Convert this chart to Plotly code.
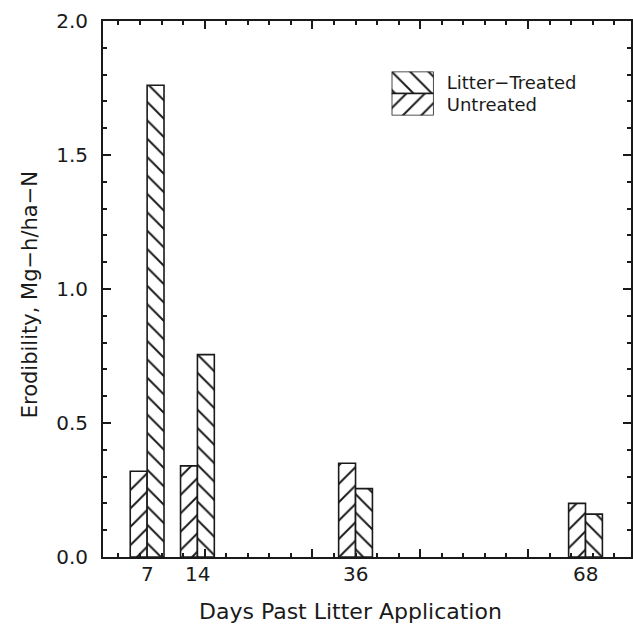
import plotly.graph_objects as go

days = [7, 14, 36, 68]
day_labels = ["7", "14", "36", "68"]
untreated = [0.32, 0.34, 0.35, 0.20]
litter_treated = [1.76, 0.755, 0.255, 0.16]
series_names = ["Litter\u2212Treated", "Untreated"]
y_major = [0.0, 0.5, 1.0, 1.5, 2.0]
y_major_text = ["0.0", "0.5", "1.0", "1.5", "2.0"]
y_minor = [round(i * 0.1, 1) for i in range(21)]
x_major = [15, 30, 45, 60]
x_minor = list(range(3, 75, 3))

W, H = 633, 625
ML, MR, MT, MB = 103, 0, 21, 68
pw = W - ML - MR
ph = H - MT - MB

INK = "#1a1a1a"
FONT = "DejaVu Sans"
bar_w = 2.35
pat_size = 13
pat_sol = 0.15
x_range = [0.86, 74.33]
y_range = [0, 2.0]


def hatch(shape):
    return dict(shape=shape, fgcolor=INK, bgcolor="white", fgopacity=1,
                size=pat_size, solidity=pat_sol)


fig = go.Figure()

fig.add_trace(go.Bar(
    x=days, y=untreated, offset=-bar_w, width=bar_w,
    marker=dict(color="white", opacity=1, line=dict(color=INK, width=1.6),
                pattern=hatch("/")),
    showlegend=False, name=series_names[1]))
fig.add_trace(go.Bar(
    x=days, y=litter_treated, offset=0, width=bar_w,
    marker=dict(color="white", opacity=1, line=dict(color=INK, width=1.6),
                pattern=hatch("\\")),
    showlegend=False, name=series_names[0]))

# invisible helpers so the overlay tick axes exist
for xa, ya in [("x2", "y"), ("x4", "y"), ("x", "y2"), ("x", "y4")]:
    fig.add_trace(go.Scatter(x=days, y=untreated, xaxis=xa, yaxis=ya,
                             mode="markers", marker=dict(opacity=0),
                             showlegend=False, hoverinfo="skip"))

# legend swatches (bars on their own small axes)
fig.add_trace(go.Bar(
    x=[1], y=[1], orientation="h", width=1, xaxis="x3", yaxis="y3",
    marker=dict(color="white", opacity=1, line=dict(color=INK, width=1.6),
                pattern=hatch("\\")),
    showlegend=False, hoverinfo="skip"))
fig.add_trace(go.Bar(
    x=[1], y=[0], orientation="h", width=1, xaxis="x3", yaxis="y3",
    marker=dict(color="white", opacity=1, line=dict(color=INK, width=1.6),
                pattern=hatch("/")),
    showlegend=False, hoverinfo="skip"))

annotations = [
    dict(text=lab, x=d, xref="x", y=0, yref="paper", yshift=-17,
         xanchor="center", yanchor="middle", showarrow=False,
         font=dict(size=20))
    for d, lab in zip(days, day_labels)
]
annotations += [
    dict(text="Erodibility, Mg\u2212h/ha\u2212N", xref="paper", yref="paper",
         x=(30 - ML) / pw, y=(H - MB - 295) / ph,
         xanchor="center", yanchor="middle", textangle=-90,
         showarrow=False, font=dict(size=21)),
    dict(text="Days Past Litter Application", xref="paper", yref="paper",
         x=(351 - ML) / pw, y=(H - MB - 611) / ph,
         xanchor="center", yanchor="middle",
         showarrow=False, font=dict(size=22)),
]


def tick_axis(overlay, vals, length, text=None, **kw):
    d = dict(overlaying=overlay, matches=overlay, tickmode="array",
             tickvals=vals, ticks="inside", ticklen=length, tickwidth=1.5,
             tickcolor=INK, showline=False, mirror="ticks",
             showgrid=False, zeroline=False)
    if text is None:
        d["showticklabels"] = False
    else:
        d["ticktext"] = text
    d.update(kw)
    return d


fig.update_layout(
    width=W, height=H,
    margin=dict(l=ML, r=MR, t=MT, b=MB),
    paper_bgcolor="white", plot_bgcolor="white",
    barmode="overlay",
    font=dict(family=FONT, color=INK, size=20),
    xaxis=dict(
        range=x_range, showticklabels=False, ticks="",
        showline=True, linecolor=INK, linewidth=1.8, mirror=True,
        showgrid=False, zeroline=False,
    ),
    yaxis=dict(
        range=y_range, showticklabels=False, ticks="",
        showline=True, linecolor=INK, linewidth=1.8, mirror=True,
        showgrid=False, zeroline=False,
    ),
    xaxis2=tick_axis("x", x_major, 8, anchor="y", side="bottom"),
    xaxis4=tick_axis("x", x_minor, 4, anchor="y", side="bottom"),
    yaxis2=tick_axis("y", y_major, 8, text=y_major_text, anchor="x",
                     side="left", ticklabelstandoff=14,
                     tickfont=dict(size=20)),
    yaxis4=tick_axis("y", y_minor, 4, anchor="x", side="left"),
    xaxis3=dict(
        domain=[(392.7 - ML) / pw, (435 - ML) / pw], anchor="y3",
        range=[0, 1], visible=False, fixedrange=True,
    ),
    yaxis3=dict(
        domain=[(H - MB - 94.5 - MT) / ph, (H - MB - 50.5 - MT) / ph],
        anchor="x3", range=[-0.5, 1.5], side="right",
        tickmode="array", tickvals=[1, 0], ticktext=series_names,
        ticklabelstandoff=12,
        ticks="", showline=False, showgrid=False, zeroline=False,
        tickfont=dict(size=18), fixedrange=True,
    ),
    annotations=annotations,
)

fig.write_html("out.html")
